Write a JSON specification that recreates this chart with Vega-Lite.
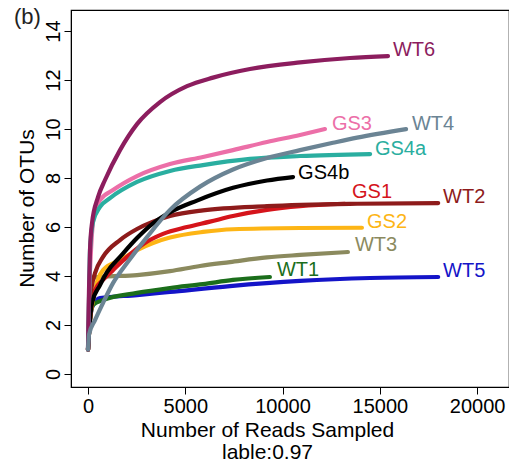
{
  "$schema": "https://vega.github.io/schema/vega-lite/v6.json",
  "autosize": {"type": "none"},
  "padding": {"left": 71, "top": 10, "right": 0, "bottom": 77},
  "width": 438,
  "height": 377,
  "background": "white",
  "title": {"text": "(b)", "anchor": "start", "frame": "group", "baseline": "top", "offset": 0, "dx": -57, "dy": 19, "fontSize": 22, "fontWeight": "normal", "font": "Liberation Sans", "color": "#222222"},
  "config": {
    "view": {"stroke": "black", "strokeWidth": 1.2},
    "axis": {"grid": false, "domainColor": "black", "tickColor": "black", "labelColor": "black", "titleColor": "black", "labelFont": "Liberation Sans", "titleFont": "Liberation Sans", "labelFontSize": 20, "titleFontSize": 21, "titleFontWeight": "normal", "tickSize": 7, "labelFlush": false, "labelOverlap": false}
  },
  "datasets": {
    "curves": [
      {"s": "WT5", "x": 0, "y": 1}, {"s": "WT5", "x": 103, "y": 2.2}, {"s": "WT5", "x": 257, "y": 2.82}, {"s": "WT5", "x": 617, "y": 3.1}, {"s": "WT5", "x": 2519, "y": 3.22}, {"s": "WT5", "x": 4215, "y": 3.35}, {"s": "WT5", "x": 7300, "y": 3.59}, {"s": "WT5", "x": 10900, "y": 3.8}, {"s": "WT5", "x": 14500, "y": 3.92}, {"s": "WT5", "x": 18000, "y": 3.96},
      {"s": "WT1", "x": 0, "y": 1}, {"s": "WT1", "x": 103, "y": 2.2}, {"s": "WT1", "x": 257, "y": 2.82}, {"s": "WT1", "x": 771, "y": 3.02}, {"s": "WT1", "x": 2519, "y": 3.31}, {"s": "WT1", "x": 4215, "y": 3.51}, {"s": "WT1", "x": 5910, "y": 3.67}, {"s": "WT1", "x": 7453, "y": 3.84}, {"s": "WT1", "x": 9350, "y": 3.96},
      {"s": "WT3", "x": 0, "y": 1}, {"s": "WT3", "x": 51, "y": 2.2}, {"s": "WT3", "x": 103, "y": 3.22}, {"s": "WT3", "x": 206, "y": 3.92}, {"s": "WT3", "x": 617, "y": 3.96}, {"s": "WT3", "x": 2519, "y": 4.04}, {"s": "WT3", "x": 4215, "y": 4.2}, {"s": "WT3", "x": 5757, "y": 4.41}, {"s": "WT3", "x": 7300, "y": 4.57}, {"s": "WT3", "x": 9200, "y": 4.76}, {"s": "WT3", "x": 10900, "y": 4.86}, {"s": "WT3", "x": 13360, "y": 4.98},
      {"s": "GS2", "x": 0, "y": 1}, {"s": "GS2", "x": 103, "y": 2.2}, {"s": "GS2", "x": 257, "y": 3.02}, {"s": "GS2", "x": 463, "y": 3.76}, {"s": "GS2", "x": 771, "y": 4.24}, {"s": "GS2", "x": 1645, "y": 4.65}, {"s": "GS2", "x": 2519, "y": 5.06}, {"s": "GS2", "x": 3341, "y": 5.35}, {"s": "GS2", "x": 4215, "y": 5.57}, {"s": "GS2", "x": 5910, "y": 5.8}, {"s": "GS2", "x": 7453, "y": 5.91}, {"s": "GS2", "x": 10900, "y": 5.96}, {"s": "GS2", "x": 14080, "y": 5.97},
      {"s": "GS1", "x": 0, "y": 1}, {"s": "GS1", "x": 103, "y": 2.2}, {"s": "GS1", "x": 206, "y": 3.02}, {"s": "GS1", "x": 360, "y": 3.43}, {"s": "GS1", "x": 771, "y": 3.84}, {"s": "GS1", "x": 1285, "y": 4.24}, {"s": "GS1", "x": 2005, "y": 4.78}, {"s": "GS1", "x": 2827, "y": 5.3}, {"s": "GS1", "x": 3855, "y": 5.72}, {"s": "GS1", "x": 5089, "y": 6.0}, {"s": "GS1", "x": 6270, "y": 6.22}, {"s": "GS1", "x": 7453, "y": 6.45}, {"s": "GS1", "x": 9200, "y": 6.7}, {"s": "GS1", "x": 10900, "y": 6.85}, {"s": "GS1", "x": 13200, "y": 6.95},
      {"s": "WT2", "x": 0, "y": 1}, {"s": "WT2", "x": 103, "y": 3.02}, {"s": "WT2", "x": 206, "y": 3.63}, {"s": "WT2", "x": 360, "y": 4.12}, {"s": "WT2", "x": 771, "y": 4.78}, {"s": "WT2", "x": 1645, "y": 5.47}, {"s": "WT2", "x": 2519, "y": 5.92}, {"s": "WT2", "x": 3341, "y": 6.22}, {"s": "WT2", "x": 4215, "y": 6.45}, {"s": "WT2", "x": 5910, "y": 6.68}, {"s": "WT2", "x": 9200, "y": 6.85}, {"s": "WT2", "x": 13830, "y": 6.95}, {"s": "WT2", "x": 18000, "y": 6.98},
      {"s": "GS4b", "x": 0, "y": 1}, {"s": "GS4b", "x": 103, "y": 2.2}, {"s": "GS4b", "x": 206, "y": 2.9}, {"s": "GS4b", "x": 617, "y": 3.63}, {"s": "GS4b", "x": 977, "y": 4.16}, {"s": "GS4b", "x": 1645, "y": 4.78}, {"s": "GS4b", "x": 2519, "y": 5.55}, {"s": "GS4b", "x": 3341, "y": 6.15}, {"s": "GS4b", "x": 4215, "y": 6.6}, {"s": "GS4b", "x": 5600, "y": 7.08}, {"s": "GS4b", "x": 7453, "y": 7.6}, {"s": "GS4b", "x": 9200, "y": 7.9}, {"s": "GS4b", "x": 10540, "y": 8.04},
      {"s": "GS3", "x": 0, "y": 1}, {"s": "GS3", "x": 51, "y": 3.02}, {"s": "GS3", "x": 154, "y": 5.06}, {"s": "GS3", "x": 308, "y": 6.49}, {"s": "GS3", "x": 617, "y": 7.1}, {"s": "GS3", "x": 1285, "y": 7.51}, {"s": "GS3", "x": 2519, "y": 8.08}, {"s": "GS3", "x": 4215, "y": 8.57}, {"s": "GS3", "x": 5910, "y": 8.86}, {"s": "GS3", "x": 7453, "y": 9.14}, {"s": "GS3", "x": 9200, "y": 9.47}, {"s": "GS3", "x": 10900, "y": 9.76}, {"s": "GS3", "x": 12180, "y": 10.0},
      {"s": "GS4a", "x": 0, "y": 1}, {"s": "GS4a", "x": 51, "y": 3.02}, {"s": "GS4a", "x": 103, "y": 5.06}, {"s": "GS4a", "x": 257, "y": 6.2}, {"s": "GS4a", "x": 617, "y": 6.82}, {"s": "GS4a", "x": 1131, "y": 7.18}, {"s": "GS4a", "x": 2519, "y": 7.84}, {"s": "GS4a", "x": 4215, "y": 8.29}, {"s": "GS4a", "x": 5910, "y": 8.53}, {"s": "GS4a", "x": 8330, "y": 8.78}, {"s": "GS4a", "x": 10900, "y": 8.9}, {"s": "GS4a", "x": 14500, "y": 8.98},
      {"s": "WT6", "x": 0, "y": 1}, {"s": "WT6", "x": 51, "y": 3.43}, {"s": "WT6", "x": 103, "y": 5.06}, {"s": "WT6", "x": 206, "y": 6.16}, {"s": "WT6", "x": 514, "y": 7.22}, {"s": "WT6", "x": 874, "y": 7.92}, {"s": "WT6", "x": 1645, "y": 9.14}, {"s": "WT6", "x": 2519, "y": 10.2}, {"s": "WT6", "x": 3701, "y": 11.1}, {"s": "WT6", "x": 5089, "y": 11.75}, {"s": "WT6", "x": 6425, "y": 12.1}, {"s": "WT6", "x": 8326, "y": 12.45}, {"s": "WT6", "x": 10896, "y": 12.72}, {"s": "WT6", "x": 13466, "y": 12.9}, {"s": "WT6", "x": 15420, "y": 12.98},
      {"s": "WT4", "x": 0, "y": 1}, {"s": "WT4", "x": 51, "y": 1.61}, {"s": "WT4", "x": 360, "y": 2.2}, {"s": "WT4", "x": 771, "y": 2.9}, {"s": "WT4", "x": 1285, "y": 3.71}, {"s": "WT4", "x": 2005, "y": 4.53}, {"s": "WT4", "x": 3033, "y": 5.59}, {"s": "WT4", "x": 4215, "y": 6.7}, {"s": "WT4", "x": 5757, "y": 7.65}, {"s": "WT4", "x": 7453, "y": 8.35}, {"s": "WT4", "x": 9200, "y": 8.82}, {"s": "WT4", "x": 10900, "y": 9.14}, {"s": "WT4", "x": 12590, "y": 9.44}, {"s": "WT4", "x": 13830, "y": 9.65}, {"s": "WT4", "x": 16350, "y": 10.0}
    ],
    "labels": [
      {"s": "WT6", "x": 15677, "y": 13.22},
      {"s": "GS3", "x": 12540, "y": 10.22},
      {"s": "WT4", "x": 16650, "y": 10.22},
      {"s": "GS4a", "x": 14750, "y": 9.2},
      {"s": "GS4b", "x": 10800, "y": 8.22},
      {"s": "GS1", "x": 13570, "y": 7.45},
      {"s": "WT2", "x": 18250, "y": 7.24},
      {"s": "GS2", "x": 14340, "y": 6.22},
      {"s": "WT3", "x": 13720, "y": 5.27},
      {"s": "WT1", "x": 9710, "y": 4.24},
      {"s": "WT5", "x": 18250, "y": 4.22}
    ]
  },
  "encoding": {
    "x": {"field": "x", "type": "quantitative", "scale": {"domain": [-874, 21640], "nice": false, "zero": false},
      "axis": {"values": [0, 5000, 10000, 15000, 20000], "format": "d", "labelPadding": 2, "title": ["Number of Reads Sampled", "lable:0.97"], "titleX": 196, "titleY": 32, "titleBaseline": "top", "titleAlign": "center", "titleLineHeight": 22}},
    "y": {"field": "y", "type": "quantitative", "scale": {"domain": [-0.53, 14.86], "nice": false, "zero": false},
      "axis": {"values": [0, 2, 4, 6, 8, 10, 12, 14], "labelAngle": 270, "labelAlign": "center", "labelBaseline": "bottom", "labelPadding": 1, "title": "Number of OTUs", "titleX": -44, "titleY": 198, "titleAngle": 270, "titleAlign": "center", "titleBaseline": "middle"}},
    "color": {"field": "s", "type": "nominal", "legend": null,
      "scale": {"domain": ["WT5", "WT1", "WT3", "GS2", "GS1", "WT2", "GS4b", "GS3", "GS4a", "WT6", "WT4"],
        "range": ["#1414c8", "#1b6e1b", "#8b8a5e", "#fdb515", "#d5141b", "#8e1b1b", "#000000", "#ec6fa8", "#2aaea0", "#8c1d5e", "#6b8494"]}}
  },
  "layer": [
    {"data": {"name": "curves"}, "mark": {"type": "line", "interpolate": "monotone", "strokeWidth": 4.2, "strokeCap": "round", "clip": true}},
    {"data": {"name": "labels"}, "mark": {"type": "text", "align": "left", "baseline": "middle", "fontSize": 20, "font": "Liberation Sans"}, "encoding": {"text": {"field": "s"}}}
  ]
}
